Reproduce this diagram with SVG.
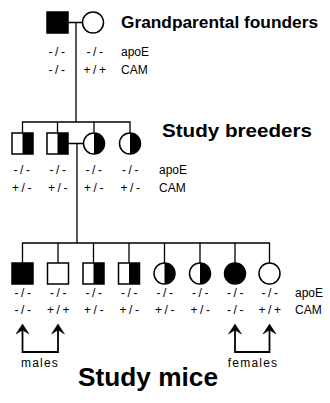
<svg xmlns="http://www.w3.org/2000/svg" width="330" height="403" viewBox="0 0 330 403">
<style>
.ln{stroke:#000;stroke-width:1.3;fill:none}
.ol{stroke:#000;stroke-width:1.5;fill:#fff}
.bk{fill:#000}
.gt{font-family:"Liberation Sans",Arial,sans-serif;font-size:12px;letter-spacing:2.6px;text-anchor:middle;fill:#000}
.lb{font-family:"Liberation Sans",Arial,sans-serif;font-size:12px;fill:#000}
.sx{font-family:"Liberation Sans",Arial,sans-serif;font-size:12px;letter-spacing:1.2px;text-anchor:middle;fill:#000}
.hd{font-family:"Liberation Sans",Arial,sans-serif;font-weight:bold;fill:#000}
.ar{stroke:#000;stroke-width:1.8;fill:none}
.hdA{fill:#000;stroke:#000;stroke-width:0.5}
</style>
<defs>
<g id="sqFull"><rect x="-10.5" y="-10.5" width="21" height="21" class="ol" style="fill:#000"/></g>
<g id="sqEmpty"><rect x="-10.5" y="-10.5" width="21" height="21" class="ol"/></g>
<g id="sqHalf"><rect x="-10.5" y="-10.5" width="21" height="21" class="ol"/><rect x="0" y="-10.5" width="10.5" height="21" class="bk"/></g>
<g id="ciFull"><circle r="10.5" class="ol" style="fill:#000"/></g>
<g id="ciEmpty"><circle r="10.5" class="ol"/></g>
<g id="ciHalf"><circle r="10.5" class="ol"/><path d="M0,-10.5 A10.5,10.5 0 0 1 0,10.5 Z" class="bk"/></g>
</defs>

<g id="connectors">
<path class="ln" d="M68,22.5 H82.5 M76,22.5 V122"/>
<path class="ln" d="M22.5,133 V122 H130 V133 M57.5,122 V133 M94,122 V132.5"/>
<path class="ln" d="M68,143.5 H83.5 M77,143.5 V243"/>
<path class="ln" d="M22.5,263 V243 H269.5 V263 M58,243 V263 M93.5,243 V263 M129,243 V263 M164.5,243 V263 M200,243 V263 M235,243 V263"/>
<path class="ar" d="M22.5,329 V352 H58 V329"/>
<path class="ar" d="M235,329 V352 H269.5 V329"/>
<path class="hdA" d="M22.5,324 L16,334 L22.5,330 L29,334 Z"/>
<path class="hdA" d="M58,324 L51.5,334 L58,330 L64.5,334 Z"/>
<path class="hdA" d="M235,324 L228.5,334 L235,330 L241.5,334 Z"/>
<path class="hdA" d="M269.5,324 L263,334 L269.5,330 L276,334 Z"/>
</g>

<g id="g1-male"><use href="#sqFull" x="57.5" y="22.5"/><text class="gt" x="58" y="56">-/-</text><text class="gt" x="58" y="73.5">-/-</text></g>
<g id="g1-female"><use href="#ciEmpty" x="93" y="22.5"/><text class="gt" x="96" y="56">-/-</text><text class="gt" x="96" y="73.5">+/+</text></g>
<g id="g1-labels"><text class="hd" x="121" y="28" font-size="17" textLength="197" lengthAdjust="spacingAndGlyphs">Grandparental founders</text><text class="lb" x="121" y="56">apoE</text><text class="lb" x="121" y="73.5">CAM</text></g>

<g id="g2-1"><use href="#sqHalf" x="22.5" y="143.5"/><text class="gt" x="23" y="174">-/-</text><text class="gt" x="23" y="192">+/-</text></g>
<g id="g2-2"><use href="#sqHalf" x="57.5" y="143.5"/><text class="gt" x="59" y="174">-/-</text><text class="gt" x="59" y="192">+/-</text></g>
<g id="g2-3"><use href="#ciHalf" x="94" y="143.5"/><text class="gt" x="95" y="174">-/-</text><text class="gt" x="95" y="192">+/-</text></g>
<g id="g2-4"><use href="#ciHalf" x="130" y="143.5"/><text class="gt" x="131.5" y="174">-/-</text><text class="gt" x="131.5" y="192">+/-</text></g>
<g id="g2-labels"><text class="hd" x="162" y="137" font-size="18" textLength="150" lengthAdjust="spacingAndGlyphs">Study breeders</text><text class="lb" x="159" y="174">apoE</text><text class="lb" x="159" y="192">CAM</text></g>

<g id="g3-1"><use href="#sqFull" x="22.5" y="273.5"/><text class="gt" x="24" y="297">-/-</text><text class="gt" x="24" y="314">-/-</text></g>
<g id="g3-2"><use href="#sqEmpty" x="58" y="273.5"/><text class="gt" x="59.5" y="297">-/-</text><text class="gt" x="59.5" y="314">+/+</text></g>
<g id="g3-3"><use href="#sqHalf" x="93.5" y="273.5"/><text class="gt" x="95" y="297">-/-</text><text class="gt" x="95" y="314">+/-</text></g>
<g id="g3-4"><use href="#sqHalf" x="129" y="273.5"/><text class="gt" x="130.5" y="297">-/-</text><text class="gt" x="130.5" y="314">+/-</text></g>
<g id="g3-5"><use href="#ciHalf" x="164.5" y="273.5"/><text class="gt" x="166" y="297">-/-</text><text class="gt" x="166" y="314">+/-</text></g>
<g id="g3-6"><use href="#ciHalf" x="200" y="273.5"/><text class="gt" x="201.5" y="297">-/-</text><text class="gt" x="201.5" y="314">+/-</text></g>
<g id="g3-7"><use href="#ciFull" x="235" y="273.5"/><text class="gt" x="236.5" y="297">-/-</text><text class="gt" x="236.5" y="314">-/-</text></g>
<g id="g3-8"><use href="#ciEmpty" x="269.5" y="273.5"/><text class="gt" x="271" y="297">-/-</text><text class="gt" x="271" y="314">+/+</text></g>
<g id="g3-labels"><text class="lb" x="295" y="297">apoE</text><text class="lb" x="295" y="314">CAM</text>
<text class="sx" x="40" y="367">males</text><text class="sx" x="253" y="367">females</text>
<text class="hd" x="78" y="386" font-size="26" textLength="140" lengthAdjust="spacingAndGlyphs">Study mice</text></g>
</svg>
